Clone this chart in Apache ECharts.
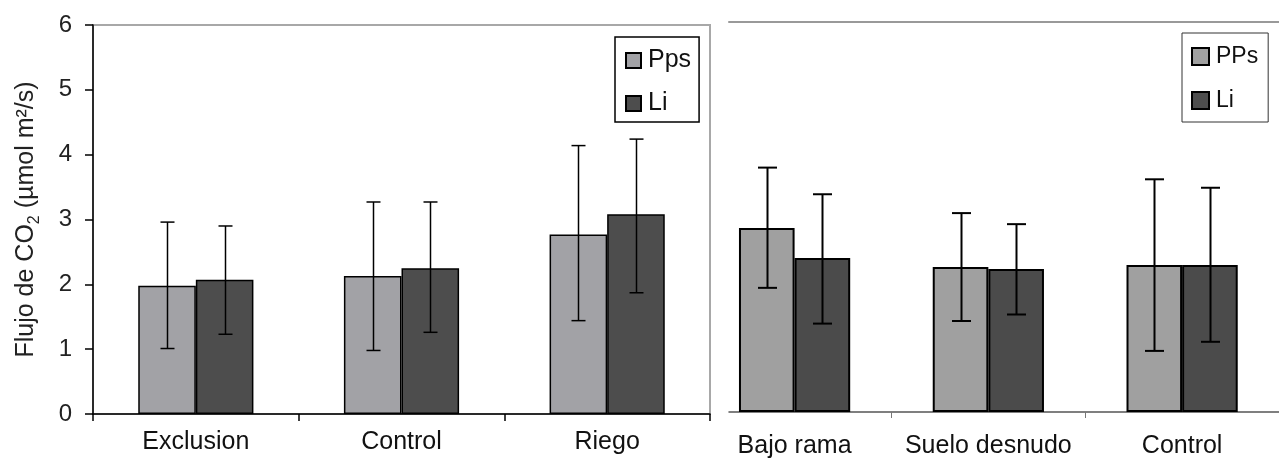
<!DOCTYPE html>
<html>
<head>
<meta charset="utf-8">
<script src="https://cdn.jsdelivr.net/npm/echarts@6/dist/echarts.min.js"></script>
<style>
html,body{margin:0;padding:0;background:#fff;}
#chart{width:1279px;height:466px;}
</style>
</head>
<body>
<div id="chart"></div>
<script>
// ---------- data ----------
const yTicks = [0, 1, 2, 3, 4, 5, 6];

const leftCategories = ['Exclusion', 'Control', 'Riego'];
const leftPps      = [1.98, 2.13, 2.77];
const leftPpsLow   = [1.01, 0.98, 1.44];
const leftPpsHigh  = [2.96, 3.27, 4.14];
const leftLi       = [2.07, 2.25, 3.08];
const leftLiLow    = [1.23, 1.26, 1.87];
const leftLiHigh   = [2.90, 3.27, 4.24];

const rightCategories = ['Bajo rama', 'Suelo desnudo', 'Control'];
const rightPPs      = [2.83, 2.23, 2.26];
const rightPPsLow   = [1.91, 1.40, 0.94];
const rightPPsHigh  = [3.76, 3.06, 3.58];
const rightLi       = [2.37, 2.20, 2.26];
const rightLiLow    = [1.36, 1.50, 1.08];
const rightLiHigh   = [3.35, 2.89, 3.45];

// ---------- helpers ----------
const FONT = 'Liberation Sans, Arial, Helvetica, sans-serif';
const LEFT_BAR = 0.28, RIGHT_BAR = 0.287;

function errData(low, high) {
  return low.map((v, i) => [i, v, high[i]]);
}
function errRender(sign, frac, capW, lw) {
  return function (params, api) {
    const c = api.value(0), lo = api.value(1), hi = api.value(2);
    const band = api.size([1, 0])[0];
    const w = band * frac;
    const pLo = api.coord([c, lo]);
    const pHi = api.coord([c, hi]);
    const x = Math.round(pLo[0] + sign * w / 2) + 0.5;
    const st = { stroke: '#000', lineWidth: lw };
    return {
      type: 'group',
      children: [
        { type: 'line', shape: { x1: x, y1: pLo[1], x2: x, y2: pHi[1] }, style: st },
        { type: 'line', shape: { x1: x - capW / 2, y1: pHi[1], x2: x + capW / 2, y2: pHi[1] }, style: st },
        { type: 'line', shape: { x1: x - capW / 2, y1: pLo[1], x2: x + capW / 2, y2: pLo[1] }, style: st }
      ]
    };
  };
}

const chart = echarts.init(document.getElementById('chart'), null, { renderer: 'canvas' });

const option = {
  animation: false,
  backgroundColor: '#fff',
  textStyle: { fontFamily: FONT },
  grid: [
    { left: 93, top: 25, width: 617, height: 389, show: true, borderColor: '#a8a8a8', borderWidth: 2, backgroundColor: 'transparent' },
    { left: 697.7, top: 22, width: 585, height: 390 },
    { left: 729, top: 22, right: 0, height: 390 }
  ],
  legend: [
    {
      data: ['Pps', 'Li'], orient: 'vertical', left: 615, top: 37,
      padding: [11, 8, 6, 10], itemGap: 18, itemWidth: 15, itemHeight: 15,
      backgroundColor: '#fff', borderColor: '#000', borderWidth: 1.5,
      icon: 'rect', selectedMode: false,
      textStyle: { fontSize: 25, color: '#111', fontFamily: FONT, padding: [0, 0, 0, 2] }
    },
    {
      data: ['PPs', 'Li'], orient: 'vertical', left: 1182, top: 33,
      padding: [12, 10, 10, 9], itemGap: 21, itemWidth: 17, itemHeight: 17,
      backgroundColor: '#fff', borderColor: '#333', borderWidth: 1,
      icon: 'rect', selectedMode: false,
      textStyle: { fontSize: 23, color: '#111', fontFamily: FONT, padding: [0, 0, 0, 2] }
    }
  ],
  xAxis: [
    {
      type: 'category', gridIndex: 0, data: leftCategories,
      axisLine: { lineStyle: { color: '#000', width: 1.5 } },
      axisTick: { show: true, length: 7, lineStyle: { color: '#000', width: 1.5 } },
      axisLabel: { interval: 0, fontSize: 25, color: '#111', margin: 16, fontFamily: FONT }
    },
    {
      type: 'category', gridIndex: 1, data: rightCategories,
      axisLine: { show: false },
      axisTick: { show: true, length: 6, interval: function (i) { return i > 0; }, lineStyle: { color: '#777', width: 1 } },
      axisLabel: { interval: 0, fontSize: 25, color: '#111', margin: 22, fontFamily: FONT }
    },
    {
      type: 'value', gridIndex: 2, min: 0, max: 1, position: 'bottom',
      axisLine: { show: true, onZero: false, lineStyle: { color: '#555', width: 1.5 } },
      axisTick: { show: false }, axisLabel: { show: false }, splitLine: { show: false }
    },
    {
      type: 'value', gridIndex: 2, min: 0, max: 1, position: 'top',
      axisLine: { show: true, onZero: false, lineStyle: { color: '#999', width: 2 } },
      axisTick: { show: false }, axisLabel: { show: false }, splitLine: { show: false }
    }
  ],
  yAxis: [
    {
      type: 'value', gridIndex: 0, min: yTicks[0], max: yTicks[yTicks.length - 1], interval: 1,
      axisLine: { show: true, lineStyle: { color: '#000', width: 1.5 } },
      axisTick: { show: true, length: 8, lineStyle: { color: '#000', width: 1.5 } },
      splitLine: { show: false },
      axisLabel: { fontSize: 24, color: '#222', margin: 21, fontFamily: FONT },
      name: 'Flujo de CO{sub|2} (µmol m²/s)',
      nameLocation: 'middle', nameGap: 50, nameRotate: 90,
      nameTextStyle: {
        fontSize: 25, color: '#222', fontFamily: FONT, lineHeight: 33,
        rich: { sub: { fontSize: 16, lineHeight: 16, verticalAlign: 'bottom', fontFamily: FONT, color: '#222' } }
      }
    },
    {
      type: 'value', gridIndex: 1, min: yTicks[0], max: yTicks[yTicks.length - 1], interval: 1,
      show: false
    },
    {
      type: 'value', gridIndex: 2, min: 0, max: 1, show: false
    }
  ],
  series: [
    {
      name: 'Pps', type: 'bar', xAxisIndex: 0, yAxisIndex: 0, data: leftPps,
      barWidth: (LEFT_BAR * 100) + '%', barGap: '0%',
      itemStyle: { color: '#a2a2a6', borderColor: '#000', borderWidth: 1.5 }
    },
    {
      name: 'Li', type: 'bar', xAxisIndex: 0, yAxisIndex: 0, data: leftLi,
      barWidth: (LEFT_BAR * 100) + '%', barGap: '0%',
      itemStyle: { color: '#4d4d4d', borderColor: '#000', borderWidth: 1.5 }
    },
    {
      name: 'PPs', type: 'bar', xAxisIndex: 1, yAxisIndex: 1, data: rightPPs,
      barWidth: (RIGHT_BAR * 100) + '%', barGap: '0%',
      itemStyle: { color: '#a0a0a0', borderColor: '#000', borderWidth: 2 }
    },
    {
      name: 'Li', type: 'bar', xAxisIndex: 1, yAxisIndex: 1, data: rightLi,
      barWidth: (RIGHT_BAR * 100) + '%', barGap: '0%',
      itemStyle: { color: '#4b4b4b', borderColor: '#000', borderWidth: 2 }
    },
    {
      name: 'err-left-Pps', type: 'custom', xAxisIndex: 0, yAxisIndex: 0, z: 5,
      data: errData(leftPpsLow, leftPpsHigh), encode: { x: 0, y: [1, 2] },
      renderItem: errRender(-1, LEFT_BAR, 14, 1.5)
    },
    {
      name: 'err-left-Li', type: 'custom', xAxisIndex: 0, yAxisIndex: 0, z: 5,
      data: errData(leftLiLow, leftLiHigh), encode: { x: 0, y: [1, 2] },
      renderItem: errRender(1, LEFT_BAR, 14, 1.5)
    },
    {
      name: 'err-right-PPs', type: 'custom', xAxisIndex: 1, yAxisIndex: 1, z: 5,
      data: errData(rightPPsLow, rightPPsHigh), encode: { x: 0, y: [1, 2] },
      renderItem: errRender(-1, RIGHT_BAR, 19, 2)
    },
    {
      name: 'err-right-Li', type: 'custom', xAxisIndex: 1, yAxisIndex: 1, z: 5,
      data: errData(rightLiLow, rightLiHigh), encode: { x: 0, y: [1, 2] },
      renderItem: errRender(1, RIGHT_BAR, 19, 2)
    }
  ]
};

chart.setOption(option);
</script>
</body>
</html>
